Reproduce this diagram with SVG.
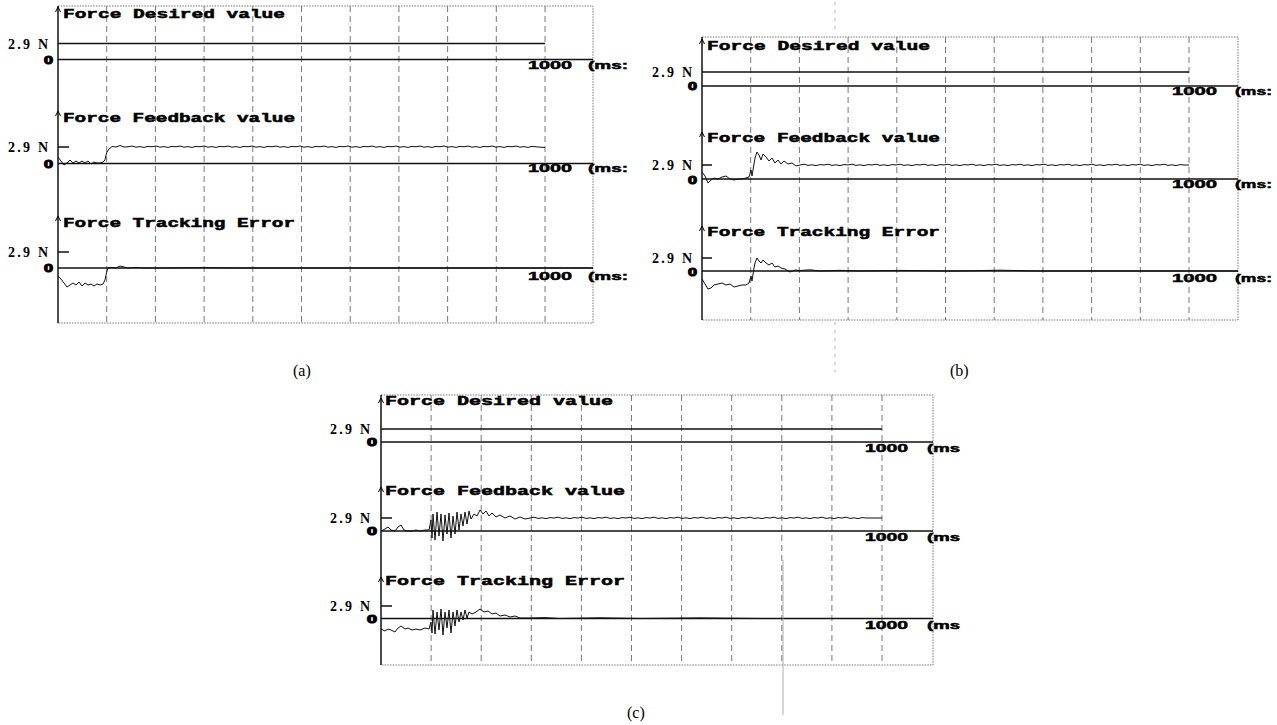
<svg xmlns="http://www.w3.org/2000/svg" width="1277" height="725" viewBox="0 0 1277 725">
<style>
.bg{fill:#ffffff}
.grid{fill:none;stroke:#555;stroke-width:0.8;stroke-dasharray:6 4}
.border{fill:none;stroke:#666;stroke-width:0.9;stroke-dasharray:1.5 1.2}
.axis{fill:none;stroke:#000;stroke-width:1.4}
.ref{fill:none;stroke:#111;stroke-width:1.3}
.sig{fill:none;stroke:#111;stroke-width:1}
.caret{fill:none;stroke:#000;stroke-width:1}
.title{font-family:"Liberation Mono","DejaVu Sans Mono",monospace;font-weight:bold;font-size:12px;fill:#000;stroke:#000;stroke-width:0.5}
.unit{font-family:"Liberation Sans",Arial,sans-serif;font-weight:bold;font-size:11.5px;fill:#000;stroke:#000;stroke-width:0.5}
.zero{font-family:"Liberation Sans",Arial,sans-serif;font-weight:bold;font-size:10.5px;fill:#000;stroke:#000;stroke-width:1}
.val{font-family:"Liberation Serif","Times New Roman",serif;font-weight:bold;font-size:14px;fill:#000}
.cap{font-family:"Liberation Serif","Times New Roman",serif;font-size:16px;fill:#000}
.stray{fill:none;stroke:#999;stroke-width:0.8}
</style>
<rect class="bg" x="0" y="0" width="1277" height="725"/>

<!-- Panel (a) -->
<g id="panel-a">
  <path class="grid" d="M106.7,6V323M155.4,6V323M204.1,6V323M252.8,6V323M301.5,6V323M350.2,6V323M398.9,6V323M447.6,6V323M496.3,6V323M545,6V323"/>
  <path class="border" d="M58,6H593V323H58"/>
  <path class="axis" d="M58,6V323"/>
  <path class="caret" d="M55.5,12L58,7L60.5,12M55.5,116L58,111L60.5,116M55.5,221L58,216L60.5,221"/>
  <text class="title" x="63" y="18" textLength="222" lengthAdjust="spacingAndGlyphs">Force Desired value</text>
  <text class="title" x="63" y="121.5" textLength="232" lengthAdjust="spacingAndGlyphs">Force Feedback value</text>
  <text class="title" x="63" y="226.5" textLength="232" lengthAdjust="spacingAndGlyphs">Force Tracking Error</text>
  <text class="val" x="8" y="48.5" textLength="40" lengthAdjust="spacing">2.9 N</text>
  <text class="val" x="8" y="151.5" textLength="40" lengthAdjust="spacing">2.9 N</text>
  <text class="val" x="8" y="256.5" textLength="40" lengthAdjust="spacing">2.9 N</text>
  <text class="zero" x="44" y="63.5" textLength="9" lengthAdjust="spacingAndGlyphs">0</text>
  <text class="zero" x="44" y="167.5" textLength="9" lengthAdjust="spacingAndGlyphs">0</text>
  <text class="zero" x="44" y="272" textLength="9" lengthAdjust="spacingAndGlyphs">0</text>
  <text class="unit" x="528" y="69" textLength="44" lengthAdjust="spacingAndGlyphs">1000</text>
  <text class="unit" x="588" y="69" textLength="40" lengthAdjust="spacingAndGlyphs">(ms:</text>
  <text class="unit" x="528" y="172" textLength="44" lengthAdjust="spacingAndGlyphs">1000</text>
  <text class="unit" x="588" y="172" textLength="40" lengthAdjust="spacingAndGlyphs">(ms:</text>
  <text class="unit" x="528" y="280" textLength="44" lengthAdjust="spacingAndGlyphs">1000</text>
  <text class="unit" x="588" y="280" textLength="40" lengthAdjust="spacingAndGlyphs">(ms:</text>
  <path class="ref" d="M58,43.5H545M58,59.5H593M58,163.5H593M58,268H593M58,147H69M58,252H69"/>
  <path class="sig" d="M58,157L61,161 64,165 67,163 70,160 73,163 76,161 79,163 82,161 85,163 88,161 91,164 94,162 97,163 100,163 103,162 105,160 106,155 107,152 109,149 112,146.5 116,147 120,145.5 124,147 128,146.8 l4,-0.8 4,1.2 4,-0.6 4,0.8 4,-1 4,0.4 4,-0.8 4,1.2 4,-0.6 4,0.8 4,-1 4,0.4 4,-0.8 4,1.2 4,-0.6 4,0.8 4,-1 4,0.4 4,-0.8 4,1.2 4,-0.6 4,0.8 4,-1 4,0.4 4,-0.8 4,1.2 4,-0.6 4,0.8 4,-1 4,0.4 4,-0.8 4,1.2 4,-0.6 4,0.8 4,-1 4,0.4 4,-0.8 4,1.2 4,-0.6 4,0.8 4,-1 4,0.4 4,-0.8 4,1.2 4,-0.6 4,0.8 4,-1 4,0.4 4,-0.8 4,1.2 4,-0.6 4,0.8 4,-1 4,0.4 4,-0.8 4,1.2 4,-0.6 4,0.8 4,-1 4,0.4 4,-0.8 4,1.2 4,-0.6 4,0.8 4,-1 4,0.4 4,-0.8 4,1.2 4,-0.6 4,0.8 4,-1 4,0.4 4,-0.8 4,1.2 4,-0.6 4,0.8 4,-1 4,0.4 4,-0.8 4,1.2 4,-0.6 4,0.8 4,-1 4,0.4 4,-0.8 4,1.2 4,-0.6 4,0.8 4,-1 4,0.4 4,-0.8 4,1.2 4,-0.6 4,0.8 4,-1 4,0.4 4,-0.8 4,1.2 4,-0.6 4,0.8 4,-1 4,0.4 L545,147.5"/>
  <path class="sig" d="M58,276L61,279 64,283 67,287 70,285 73,283 76,285 79,282 82,286 85,283 88,285 91,284 94,286 97,284 100,285 103,284 105,280 106,275 107,271 108,268 112,267.5 116,268 120,266 124,267 128,268 136,267.4 144,268 160,268 200,267.6 240,268 593,268"/>
  <text class="cap" x="293" y="376">(a)</text>
</g>

<!-- Panel (b) -->
<g id="panel-b">
  <path class="grid" d="M750.7,37V320M799.4,37V320M848.1,37V320M896.8,37V320M945.5,37V320M994.2,37V320M1042.9,37V320M1091.6,37V320M1140.3,37V320M1189,37V320"/>
  <path class="border" d="M702,37H1238V320H702"/>
  <path class="axis" d="M702,37V320"/>
  <path class="caret" d="M699.5,44L702,39L704.5,44M699.5,137L702,132L704.5,137M699.5,231L702,226L704.5,231"/>
  <text class="title" x="707" y="49.5" textLength="223" lengthAdjust="spacingAndGlyphs">Force Desired value</text>
  <text class="title" x="707" y="141.5" textLength="233" lengthAdjust="spacingAndGlyphs">Force Feedback value</text>
  <text class="title" x="707" y="235.5" textLength="233" lengthAdjust="spacingAndGlyphs">Force Tracking Error</text>
  <text class="val" x="652" y="76.5" textLength="40" lengthAdjust="spacing">2.9 N</text>
  <text class="val" x="652" y="169.5" textLength="40" lengthAdjust="spacing">2.9 N</text>
  <text class="val" x="652" y="262.5" textLength="40" lengthAdjust="spacing">2.9 N</text>
  <text class="zero" x="688" y="90" textLength="9" lengthAdjust="spacingAndGlyphs">0</text>
  <text class="zero" x="688" y="183.5" textLength="9" lengthAdjust="spacingAndGlyphs">0</text>
  <text class="zero" x="688" y="275.5" textLength="9" lengthAdjust="spacingAndGlyphs">0</text>
  <text class="unit" x="1172" y="95" textLength="45" lengthAdjust="spacingAndGlyphs">1000</text>
  <text class="unit" x="1235" y="95" textLength="37" lengthAdjust="spacingAndGlyphs">(ms:</text>
  <text class="unit" x="1172" y="188" textLength="45" lengthAdjust="spacingAndGlyphs">1000</text>
  <text class="unit" x="1235" y="188" textLength="37" lengthAdjust="spacingAndGlyphs">(ms:</text>
  <text class="unit" x="1172" y="282" textLength="45" lengthAdjust="spacingAndGlyphs">1000</text>
  <text class="unit" x="1235" y="282" textLength="37" lengthAdjust="spacingAndGlyphs">(ms:</text>
  <path class="ref" d="M702,72H1189M702,86H1238M702,179H1238M702,271H1238M702,165H712M702,258H712"/>
  <path class="sig" d="M702,172L705,176 708,183 711,180 714,178 718,179 722,177 726,176 730,179 734,180 738,179 742,179 746,178 749,177 751,170 752,176 754,164 755,158 757,152 759,155 761,160 763,154 766,157 769,161 772,158 775,163 778,160 781,164 784,161 788,164 792,163 796,166 800,165 l4,-0.8 4,1.2 4,-0.6 4,0.8 4,-1 4,0.4 4,-0.8 4,1.2 4,-0.6 4,0.8 4,-1 4,0.4 4,-0.8 4,1.2 4,-0.6 4,0.8 4,-1 4,0.4 4,-0.8 4,1.2 4,-0.6 4,0.8 4,-1 4,0.4 4,-0.8 4,1.2 4,-0.6 4,0.8 4,-1 4,0.4 4,-0.8 4,1.2 4,-0.6 4,0.8 4,-1 4,0.4 4,-0.8 4,1.2 4,-0.6 4,0.8 4,-1 4,0.4 4,-0.8 4,1.2 4,-0.6 4,0.8 4,-1 4,0.4 4,-0.8 4,1.2 4,-0.6 4,0.8 4,-1 4,0.4 4,-0.8 4,1.2 4,-0.6 4,0.8 4,-1 4,0.4 4,-0.8 4,1.2 4,-0.6 4,0.8 4,-1 4,0.4 4,-0.8 4,1.2 4,-0.6 4,0.8 4,-1 4,0.4 4,-0.8 4,1.2 4,-0.6 4,0.8 4,-1 4,0.4 4,-0.8 4,1.2 4,-0.6 4,0.8 4,-1 4,0.4 4,-0.8 4,1.2 4,-0.6 4,0.8 4,-1 4,0.4 4,-0.8 4,1.2 4,-0.6 4,0.8 4,-1 4,0.4 L1189,165"/>
  <path class="sig" d="M702,279L705,284 708,289 711,288 714,285 718,284 722,283 726,285 730,284 734,287 738,286 742,285 746,285 749,283 751,276 752,281 754,268 755,263 757,258 759,261 761,263 763,260 766,263 769,265 772,263 775,267 778,266 781,268 785,269 790,272 795,270 800,270.5 810,269.8 820,271 840,270.3 860,271 900,270.4 950,271 1000,270.2 1040,271 1238,271"/>
  <path class="stray" stroke-dasharray="3 5" d="M835,2V32M835,322V372"/>
  <text class="cap" x="950" y="376">(b)</text>
</g>

<!-- Panel (c) -->
<g id="panel-c">
  <path class="grid" d="M431.1,395V665M481.2,395V665M531.3,395V665M581.4,395V665M631.5,395V665M681.6,395V665M731.7,395V665M781.8,395V665M831.9,395V665M882,395V665"/>
  <path class="border" d="M381,395H933V665H381"/>
  <path class="axis" d="M381,395V665"/>
  <path class="caret" d="M378.5,403L381,398L383.5,403M378.5,492L381,487L383.5,492M378.5,582L381,577L383.5,582"/>
  <text class="title" x="385" y="404.5" textLength="228" lengthAdjust="spacingAndGlyphs">Force Desired value</text>
  <text class="title" x="385" y="494.5" textLength="240" lengthAdjust="spacingAndGlyphs">Force Feedback value</text>
  <text class="title" x="385" y="584.5" textLength="240" lengthAdjust="spacingAndGlyphs">Force Tracking Error</text>
  <text class="val" x="330" y="433.5" textLength="40" lengthAdjust="spacing">2.9 N</text>
  <text class="val" x="330" y="522.5" textLength="40" lengthAdjust="spacing">2.9 N</text>
  <text class="val" x="330" y="610.5" textLength="40" lengthAdjust="spacing">2.9 N</text>
  <text class="zero" x="367" y="445.5" textLength="10" lengthAdjust="spacingAndGlyphs">0</text>
  <text class="zero" x="367" y="534.5" textLength="10" lengthAdjust="spacingAndGlyphs">0</text>
  <text class="zero" x="367" y="622.5" textLength="10" lengthAdjust="spacingAndGlyphs">0</text>
  <text class="unit" x="865" y="452" textLength="43" lengthAdjust="spacingAndGlyphs">1000</text>
  <text class="unit" x="927" y="452" textLength="33" lengthAdjust="spacingAndGlyphs">(ms</text>
  <text class="unit" x="865" y="541" textLength="43" lengthAdjust="spacingAndGlyphs">1000</text>
  <text class="unit" x="927" y="541" textLength="33" lengthAdjust="spacingAndGlyphs">(ms</text>
  <text class="unit" x="865" y="629" textLength="43" lengthAdjust="spacingAndGlyphs">1000</text>
  <text class="unit" x="927" y="629" textLength="33" lengthAdjust="spacingAndGlyphs">(ms</text>
  <path class="ref" d="M381,429H882M381,442H933M381,531H933M381,618.5H933M381,518H392M381,606H392"/>
  <path class="sig" d="M381,531L385,529 388,527 391,530 395,531 398,527 401,525 404,530 408,531 412,531 416,530 420,531 425,530 429,530 431,520 432,538 433,514 435,540 437,512 439,536 441,514 443,541 445,515 447,534 449,513 451,538 453,516 455,534 457,512 459,530 461,514 463,526 465,512 467,524 469,511 471,519 474,514 477,516 480,510 483,514 486,511 489,516 492,513 496,517 500,515 505,518 510,516 515,519 520,517 525,519 530,518 l4,-0.8 4,1.2 4,-0.6 4,0.8 4,-1 4,0.4 4,-0.8 4,1.2 4,-0.6 4,0.8 4,-1 4,0.4 4,-0.8 4,1.2 4,-0.6 4,0.8 4,-1 4,0.4 4,-0.8 4,1.2 4,-0.6 4,0.8 4,-1 4,0.4 4,-0.8 4,1.2 4,-0.6 4,0.8 4,-1 4,0.4 4,-0.8 4,1.2 4,-0.6 4,0.8 4,-1 4,0.4 4,-0.8 4,1.2 4,-0.6 4,0.8 4,-1 4,0.4 4,-0.8 4,1.2 4,-0.6 4,0.8 4,-1 4,0.4 4,-0.8 4,1.2 4,-0.6 4,0.8 4,-1 4,0.4 4,-0.8 4,1.2 4,-0.6 4,0.8 4,-1 4,0.4 4,-0.8 4,1.2 4,-0.6 4,0.8 4,-1 4,0.4 4,-0.8 4,1.2 4,-0.6 4,0.8 4,-1 4,0.4 4,-0.8 4,1.2 4,-0.6 4,0.8 4,-1 4,0.4 4,-0.8 4,1.2 4,-0.6 4,0.8 4,-1 4,0.4 L882,518"/>
  <path class="sig" d="M381,629L385,631 388,629 391,630 395,632 398,628 401,626 405,629 408,628 412,630 416,629 420,630 425,628 429,629 431,622 432,633 433,610 435,634 437,612 439,630 441,609 443,635 445,612 447,628 449,610 451,633 453,612 455,626 457,610 459,622 461,612 463,620 465,610 467,618 469,612 472,614 476,612 480,609 484,612 488,611 492,614 496,613 500,616 505,615 510,617 515,616 520,618 530,618 545,617.6 560,618.5 600,617.8 640,618.5 700,617.9 760,618.5 933,618.5"/>
  <path class="stray" d="M783,560V715"/>
  <text class="cap" x="627" y="718">(c)</text>
</g>
</svg>
